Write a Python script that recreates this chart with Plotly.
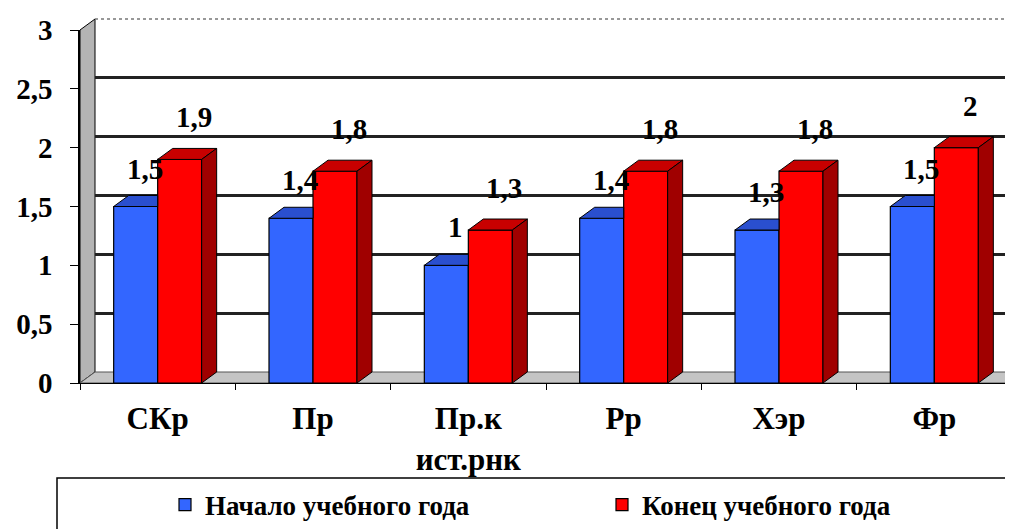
import plotly.graph_objects as go

# ---------------- data ----------------
categories = ["СКр", "Пр", "Пр.к<br>ист.рнк", "Рр", "Хэр", "Фр"]
start_vals = [1.5, 1.4, 1.0, 1.4, 1.3, 1.5]
end_vals = [1.9, 1.8, 1.3, 1.8, 1.8, 2.0]
start_labels = ["1,5", "1,4", "1", "1,4", "1,3", "1,5"]
end_labels = ["1,9", "1,8", "1,3", "1,8", "1,8", "2"]
series_names = ["Начало учебного года", "Конец учебного года"]
y_tickvals = [0, 0.5, 1, 1.5, 2, 2.5, 3]
y_ticktext = ["0", "0,5", "1", "1,5", "2", "2,5", "3"]

# ---------------- geometry (reference-window pixels) ----------------
PAGE_OFF = 8                     # default body margin of the html page
REF_W, REF_H = 1013, 529
W, H = REF_W - PAGE_OFF, REF_H - PAGE_OFF
ML, MT, MB, MR = 80 - PAGE_OFF, 18 - PAGE_OFF, 0, 0
PW = W - ML - MR
PH = H - MT - MB


def px_x(p):
    return (p - PAGE_OFF - ML) / PW


def px_y(p):
    return (H - MB - (p - PAGE_OFF)) / PH


FRONT_L, FRONT_R = 80, 1012
FRONT_T, FRONT_B = 30, 383
DXP, DYP = 15, 11                # 3D depth offset in px

n = len(categories)
idx = list(range(n))
xr = [-0.5, n - 0.5]
ppu_x = (FRONT_R - FRONT_L) / (xr[1] - xr[0])
ppu_y = (FRONT_B - FRONT_T) / 3.0
bw = 44 / ppu_x
dx = DXP / ppu_x
dy = DYP / ppu_y

FONT = "Liberation Serif"

BLUE, BLUE_TOP = "#3366FF", "#2A4FCF"
RED, RED_TOP, RED_SIDE = "#FF0000", "#C80000", "#A00000"

fig = go.Figure()

# invisible trace to create the back-wall subplot (gridlines)
fig.add_trace(go.Scatter(x=[0], y=[0], xaxis="x", yaxis="y", mode="markers",
                         marker=dict(opacity=0), showlegend=False, hoverinfo="skip"))

# front faces (bars)
fig.add_trace(go.Bar(x=idx, y=start_vals, width=bw, offset=-bw, name=series_names[0],
                     marker=dict(color=BLUE, line=dict(color="black", width=1.2)),
                     xaxis="x2", yaxis="y2", legend="legend"))
fig.add_trace(go.Bar(x=idx, y=end_vals, width=bw, offset=0, name=series_names[1],
                     marker=dict(color=RED, line=dict(color="black", width=1.2)),
                     xaxis="x2", yaxis="y2", legend="legend2"))

# top faces of the blue bars (right part hidden behind red bars)
for i, v in zip(idx, start_vals):
    x0, x1 = i - bw, i
    fig.add_trace(go.Scatter(x=[x0, x1, x1, x0 + dx, x0], y=[v, v, v + dy, v + dy, v],
                             fill="toself", fillcolor=BLUE_TOP, mode="lines",
                             line=dict(color="black", width=1), showlegend=False,
                             hoverinfo="skip", xaxis="x2", yaxis="y2"))

# top and side faces of the red bars
for i, v in zip(idx, end_vals):
    x0, x1 = i, i + bw
    fig.add_trace(go.Scatter(x=[x0, x1, x1 + dx, x0 + dx, x0], y=[v, v, v + dy, v + dy, v],
                             fill="toself", fillcolor=RED_TOP, mode="lines",
                             line=dict(color="black", width=1), showlegend=False,
                             hoverinfo="skip", xaxis="x2", yaxis="y2"))
    fig.add_trace(go.Scatter(x=[x1, x1 + dx, x1 + dx, x1, x1], y=[0, dy, v + dy, v, 0],
                             fill="toself", fillcolor=RED_SIDE, mode="lines",
                             line=dict(color="black", width=1), showlegend=False,
                             hoverinfo="skip", xaxis="x2", yaxis="y2"))

LBL_FONT = dict(family=FONT, size=29, color="black", weight="bold")

# data labels
annotations = []
for i, v, t in zip(idx, start_vals, start_labels):
    annotations.append(dict(x=i - bw / 2, y=v, xref="x2", yref="y2", text=t, showarrow=False,
                            xshift=9, yshift=38, font=LBL_FONT))
for i, v, t in zip(idx, end_vals, end_labels):
    annotations.append(dict(x=i + bw / 2, y=v, xref="x2", yref="y2", text=t, showarrow=False,
                            xshift=14, yshift=42, font=LBL_FONT))

# decoration shapes (walls, floor, legend frame) in paper coordinates
fx0, fx1 = px_x(FRONT_L), px_x(FRONT_R)
bx0, bx1 = px_x(FRONT_L + DXP), px_x(FRONT_R + DXP)
fyb, fyt = px_y(FRONT_B), px_y(FRONT_T)
byb, byt = px_y(FRONT_B - DYP), px_y(FRONT_T - DYP)
shapes = [
    dict(type="path", xref="paper", yref="paper", layer="below",
         path=f"M {fx0} {fyb} L {fx0} {fyt} L {bx0} {byt} L {bx0} {byb} Z",
         fillcolor="#B4B4B4", line=dict(color="black", width=1)),
    dict(type="path", xref="paper", yref="paper", layer="below",
         path=f"M {fx0} {fyb} L {fx1} {fyb} L {bx1} {byb} L {bx0} {byb} Z",
         fillcolor="#C4C4C4", line=dict(color="#555555", width=1)),
    dict(type="line", xref="paper", yref="paper", layer="below",
         x0=bx0, x1=px_x(REF_W), y0=byt, y1=byt, line=dict(color="#777777", width=1.5, dash="dot")),
    dict(type="rect", xref="paper", yref="paper",
         x0=px_x(57), x1=px_x(1040), y0=px_y(478), y1=px_y(560),
         line=dict(color="black", width=1.5), fillcolor="rgba(0,0,0,0)"),
]

LEG_FONT = dict(family=FONT, size=27, color="black", weight="bold")
leg_y = px_y(505)

fig.update_layout(
    template="none",
    width=W, height=H,
    margin=dict(l=ML, r=MR, t=MT, b=MB, pad=0, autoexpand=False),
    paper_bgcolor="white", plot_bgcolor="rgba(0,0,0,0)",
    barmode="overlay",
    font=dict(family=FONT, color="black"),
    showlegend=True,
    legend=dict(orientation="h", x=px_x(165), xanchor="left",
                y=leg_y, yanchor="middle", font=LEG_FONT,
                bgcolor="rgba(0,0,0,0)", itemclick=False, itemwidth=30),
    legend2=dict(orientation="h", x=px_x(602), xanchor="left",
                 y=leg_y, yanchor="middle", font=LEG_FONT,
                 bgcolor="rgba(0,0,0,0)", itemclick=False, itemwidth=30),
    # back wall axes (grid only)
    xaxis=dict(domain=[bx0, 1], range=[xr[0], xr[0] + (REF_W - FRONT_L - DXP) / ppu_x], automargin=False,
               showgrid=False, zeroline=False, showticklabels=False, showline=False, ticks="",
               fixedrange=True),
    yaxis=dict(domain=[byb, byt], range=[0, 3], tickvals=y_tickvals[1:-1], ticktext=y_ticktext[1:-1],
               automargin=False, ticks="",
               showgrid=True, gridcolor="#222222", gridwidth=2.5,
               zeroline=False, showticklabels=False, showline=False, fixedrange=True),
    # front axes
    xaxis2=dict(domain=[fx0, fx1], range=xr, anchor="y2", automargin=False,
                tickmode="array", tickvals=idx, ticktext=categories, ticks="",
                ticklabelstandoff=8,
                tickfont=dict(family=FONT, size=31, color="black", weight="bold"),
                minor=dict(tickmode="array", tickvals=[k - 0.5 for k in range(n + 1)],
                           ticks="outside", ticklen=6, tickcolor="black", tickwidth=1),
                showline=True, linecolor="black", linewidth=1,
                showgrid=False, zeroline=False, fixedrange=True),
    yaxis2=dict(domain=[fyb, fyt], range=[0, 3], anchor="x2", automargin=False,
                tickmode="array", tickvals=y_tickvals, ticktext=y_ticktext,
                ticks="outside", ticklen=8, tickcolor="black",
                ticklabelstandoff=12,
                tickfont=dict(family=FONT, size=29, color="black", weight="bold"),
                showline=True, linecolor="black", linewidth=1.5,
                showgrid=False, zeroline=False, fixedrange=True),
    shapes=shapes,
    annotations=annotations,
)

fig.write_html("out.html")
